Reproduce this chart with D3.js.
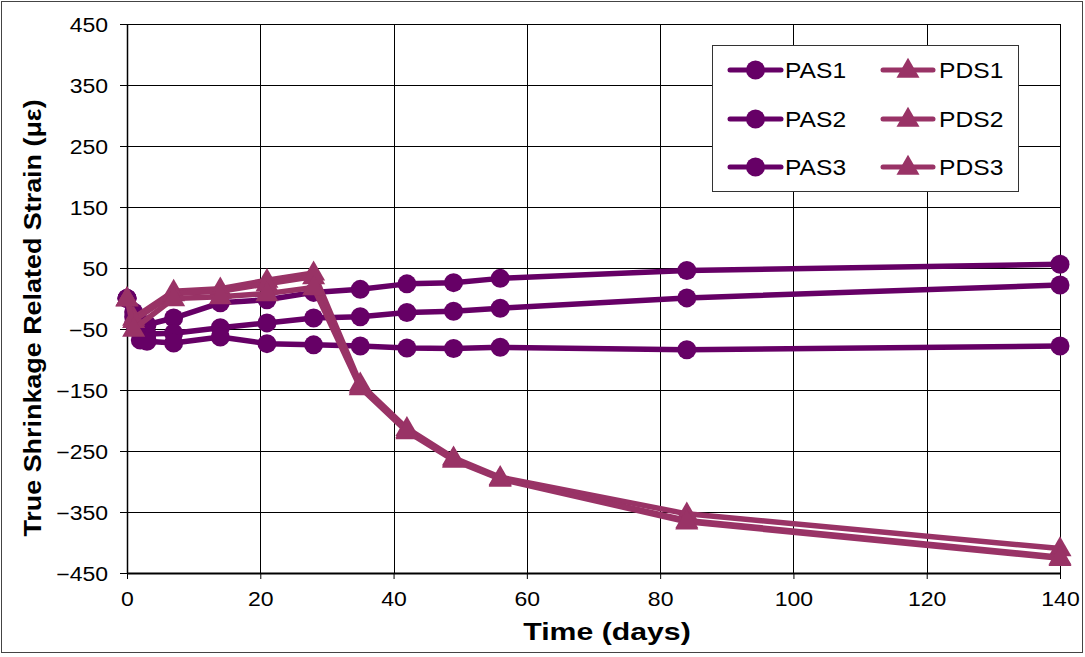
<!DOCTYPE html>
<html>
<head>
<meta charset="utf-8">
<script src="https://cdn.jsdelivr.net/npm/d3@7"></script>
<style>
  html, body { margin: 0; padding: 0; background: #fff; }
  svg { display: block; }
  text { font-family: "Liberation Sans", Arial, sans-serif; fill: #000; }
</style>
</head>
<body>
<svg id="chart" width="1085" height="657"></svg>
<script>
// Sampling days
const daysPAS = [0, 1, 2, 3, 7, 14, 21, 28, 35, 42, 49, 56, 84, 140];
const daysPDS = [0, 1, 7, 14, 21, 28, 35, 42, 49, 56, 84, 140];

// True shrinkage related strain (microstrain)
const pas1 = [0, -22, -40, -43, -32, -7, -2, 10, 15, 24, 26, 33, 46, 56];
const pas2 = [0, -30, -55, -58, -57, -48, -40, -32, -30, -23, -21, -16, 1, 22];
const pas3 = [0, -40, -68, -70, -73, -63, -74, -76, -78, -81, -82, -80, -84, -78];
const pds1 = [0, -32, 12, 16, 30, 42, -140, -213, -261, -293, -353, -410];
const pds2 = [0, -36, 8, 12, 24, 36, -143, -216, -263, -295, -364, -424];
const pds3 = [0, -50, 0, 3, 8, 18, -146, -218, -265, -296, -366, -426];

const seriesNames = ["PAS1", "PAS2", "PAS3", "PDS1", "PDS2", "PDS3"];
const xTicks = [0, 20, 40, 60, 80, 100, 120, 140];
const yTicks = [-450, -350, -250, -150, -50, 50, 150, 250, 350, 450];

const colorPAS = "#660066";
const colorPDS = "#993366";

const series = [
  { name: seriesNames[0], days: daysPAS, vals: pas1, color: colorPAS, shape: "circle" },
  { name: seriesNames[1], days: daysPAS, vals: pas2, color: colorPAS, shape: "circle" },
  { name: seriesNames[2], days: daysPAS, vals: pas3, color: colorPAS, shape: "circle" },
  { name: seriesNames[3], days: daysPDS, vals: pds1, color: colorPDS, shape: "triangle" },
  { name: seriesNames[4], days: daysPDS, vals: pds2, color: colorPDS, shape: "triangle" },
  { name: seriesNames[5], days: daysPDS, vals: pds3, color: colorPDS, shape: "triangle" }
];

const svg = d3.select("#chart");
const W = 1085, H = 657;
const plot = { left: 127, right: 1060, top: 24, bottom: 573 };

const x = d3.scaleLinear().domain([0, 140]).range([plot.left, plot.right]);
const y = d3.scaleLinear().domain([-450, 450]).range([plot.bottom, plot.top]);

// outer frame
svg.append("rect")
  .attr("x", 1.5).attr("y", 1.5).attr("width", W - 4).attr("height", H - 6)
  .attr("fill", "#fff").attr("stroke", "#444").attr("stroke-width", 1);

// gridlines
const grid = svg.append("g").attr("shape-rendering", "crispEdges");
grid.selectAll("line.h").data(yTicks).join("line")
  .attr("x1", plot.left).attr("x2", plot.right)
  .attr("y1", d => Math.round(y(d)) + 0.5).attr("y2", d => Math.round(y(d)) + 0.5)
  .attr("stroke", "#000").attr("stroke-width", 1);
grid.selectAll("line.v").data(xTicks.slice(1)).join("line")
  .attr("y1", plot.top).attr("y2", plot.bottom)
  .attr("x1", d => Math.round(x(d)) + 0.5).attr("x2", d => Math.round(x(d)) + 0.5)
  .attr("stroke", "#000").attr("stroke-width", 1);

const stretch = 1.18;

// y axis
const yAxis = svg.append("g")
  .attr("transform", `translate(${plot.left},0)`)
  .call(d3.axisLeft(y).tickValues(yTicks).tickSize(7).tickSizeOuter(0).tickFormat(d3.format("d")));
yAxis.select(".domain").attr("stroke", "#000").attr("stroke-width", 1.5);
yAxis.selectAll(".tick line").attr("stroke", "#000");
yAxis.selectAll(".tick text")
  .attr("x", -19 / stretch)
  .attr("dy", "0.36em")
  .attr("transform", `scale(${stretch},1)`)
  .style("font-size", "19.5px")
  .style("font-family", '"Liberation Sans", Arial, sans-serif');

// x axis
const xAxis = svg.append("g")
  .attr("transform", `translate(0,${plot.bottom})`)
  .call(d3.axisBottom(x).tickValues(xTicks).tickSize(6).tickSizeOuter(0).tickFormat(d3.format("d")));
xAxis.select(".domain").attr("stroke", "#000").attr("stroke-width", 2);
xAxis.selectAll(".tick line").attr("stroke", "#000");
xAxis.selectAll(".tick text")
  .attr("y", 19)
  .attr("transform", `scale(${stretch},1)`)
  .style("font-size", "19.5px")
  .style("font-family", '"Liberation Sans", Arial, sans-serif');

// axis titles
svg.append("text")
  .attr("transform", `translate(607,640) scale(1.26,1)`)
  .attr("text-anchor", "middle")
  .style("font-size", "24px").style("font-weight", "bold")
  .text("Time (days)");

svg.append("text")
  .attr("transform", `translate(41,318) rotate(-90) scale(1.17,1)`)
  .attr("text-anchor", "middle")
  .style("font-size", "23px").style("font-weight", "bold")
  .text("True Shrinkage Related Strain (με)");

// markers
const triSym = d3.symbol().type(d3.symbolTriangle).size(230);
function drawMarker(g, shape, color, cx, cy) {
  if (shape === "circle") {
    g.append("circle").attr("cx", cx).attr("cy", cy).attr("r", 9.5).attr("fill", color);
  } else {
    g.append("path").attr("d", triSym()).attr("transform", `translate(${cx},${cy + 1})`).attr("fill", color);
  }
}

const line = d3.line().x(d => x(d[0])).y(d => y(d[1]));
const marks = svg.append("g");
series.forEach(s => {
  const pts = s.days.map((d, i) => [d, s.vals[i]]);
  const g = marks.append("g");
  g.append("path").attr("d", line(pts))
    .attr("fill", "none").attr("stroke", s.color).attr("stroke-width", 5.5)
    .attr("stroke-linejoin", "round").attr("stroke-linecap", "round");
  pts.forEach(p => drawMarker(g, s.shape, s.color, x(p[0]), y(p[1])));
});

// legend
const leg = svg.append("g");
leg.append("rect").attr("x", 712.5).attr("y", 45.5).attr("width", 306).attr("height", 146)
  .attr("fill", "#fff").attr("stroke", "#333").attr("stroke-width", 1);
const legRows = [70, 119, 167];
const legCols = [{ x0: 730, x1: 781, tx: 785 }, { x0: 883, x1: 933, tx: 939 }];
series.forEach((s, i) => {
  const col = legCols[Math.floor(i / 3)];
  const cy = legRows[i % 3];
  leg.append("line").attr("x1", col.x0).attr("x2", col.x1).attr("y1", cy).attr("y2", cy)
    .attr("stroke", s.color).attr("stroke-width", 5).attr("stroke-linecap", "round");
  drawMarker(leg, s.shape, s.color, (col.x0 + col.x1) / 2, cy);
  leg.append("text")
    .attr("transform", `translate(${col.tx},${cy + 8}) scale(1.12,1)`)
    .style("font-size", "22px")
    .text(s.name);
});
</script>
</body>
</html>
